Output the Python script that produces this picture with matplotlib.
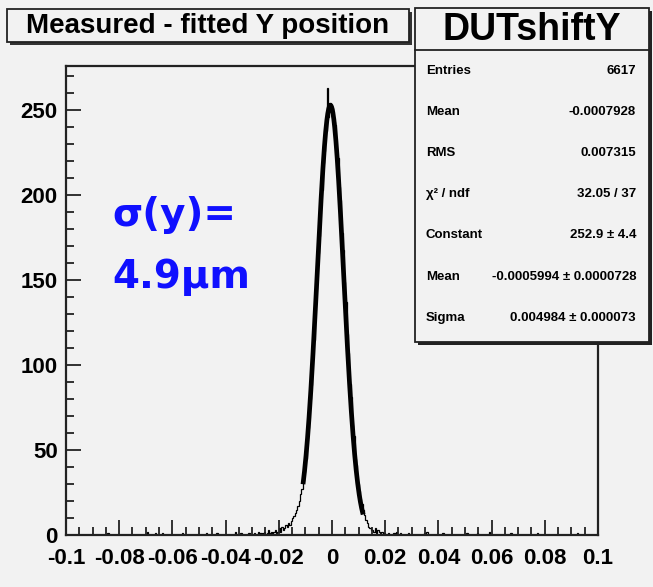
import numpy as np
import matplotlib
matplotlib.use("Agg")
import matplotlib.pyplot as plt
from matplotlib.patches import Rectangle
from matplotlib.ticker import MultipleLocator

# histogram: 400 bins from -0.1 to 0.1
x_min, x_max, n_bins = -0.1, 0.1, 400

# core region, bins of 0.0005 from -0.030 to 0.030
core_lo = -0.030
core_counts = [
    0, 1, 0, 0, 2, 0, 1, 0, 1, 2, 0, 1, 3, 1, 2, 0, 2, 3, 1, 2,
    4, 2, 5, 3, 4, 6, 5, 7, 6, 8,
    10, 11, 13, 15, 17, 20, 24, 27, 32, 37,
    45, 58, 63, 80, 88, 107, 115, 136, 145, 166,
    176, 195, 203, 219, 226, 238, 263, 246, 254, 250,
    251, 243, 241, 228, 222, 205, 197, 178, 168, 149,
    137, 118, 107, 89, 81, 65, 58, 45, 41, 30,
    26, 21, 18, 15, 12, 9, 7, 5, 4, 3,
    3, 2, 4, 1, 3, 2, 1, 2, 0, 1,
    0, 0, 1, 0, 0, 0, 1, 0, 2, 0, 0, 1, 0, 0, 0, 0, 0, 1, 0, 0,
]
# sparse entries in the far tails (bin centre, count)
tail_x = [-0.0845, -0.0695, -0.0665, -0.0640, -0.0565, -0.0475, -0.0435,
          -0.0365, -0.0345, -0.0315, 0.0345, 0.0355, 0.0415, 0.0505,
          0.0545, 0.0590, 0.0670, 0.0770, 0.0920]
tail_counts = [1, 2, 1, 1, 1, 1, 1, 2, 1, 1, 1, 2, 1, 1, 1, 2, 1, 1, 1]

# fit results (from stats box)
fit_const = 252.9
fit_mean = -0.0005994
fit_sigma = 0.004984
fit_range = (-0.0109, 0.0117)

stats_labels = ["Entries", "Mean", "RMS", "\u03c7\u00b2 / ndf", "Constant", "Mean", "Sigma"]
stats_values = ["6617", "-0.0007928", "0.007315", "32.05 / 37", "252.9 \u00b1 4.4",
                "-0.0005994 \u00b1 0.0000728", "0.004984 \u00b1 0.000073"]

x_ticks = [-0.1, -0.08, -0.06, -0.04, -0.02, 0, 0.02, 0.04, 0.06, 0.08, 0.1]
x_ticklabels = ["-0.1", "-0.08", "-0.06", "-0.04", "-0.02", "0", "0.02", "0.04", "0.06", "0.08", "0.1"]
y_ticks = [0, 50, 100, 150, 200, 250]

# build the bin contents
edges = np.linspace(x_min, x_max, n_bins + 1)
bw = (x_max - x_min) / n_bins
counts = np.zeros(n_bins)
i0 = int(round((core_lo - x_min) / bw))
counts[i0:i0 + len(core_counts)] = core_counts
for xc, c in zip(tail_x, tail_counts):
    counts[int((xc - x_min) / bw)] += c

bg = "#f2f2f2"
W, H = 653, 587
fig = plt.figure(figsize=(W / 100, H / 100), dpi=100, facecolor=bg)
plt.rcParams['font.family'] = ['Liberation Sans', 'DejaVu Sans']

ax = fig.add_axes([66 / W, 1 - 535 / H, (598 - 66) / W, (535 - 66) / H], facecolor=bg)
ax.stairs(counts, edges, color="black", lw=0.9)

xf = np.linspace(fit_range[0], fit_range[1], 200)
yf = fit_const * np.exp(-0.5 * ((xf - fit_mean) / fit_sigma) ** 2)
ax.plot(xf, yf, color="black", lw=3.4, solid_capstyle="butt")

ax.set_xlim(x_min, x_max)
ax.set_ylim(0, 276)
ax.set_xticks(x_ticks)
ax.set_xticklabels(x_ticklabels)
ax.set_yticks(y_ticks)
ax.xaxis.set_minor_locator(MultipleLocator(0.005))
ax.yaxis.set_minor_locator(MultipleLocator(10))
ax.tick_params(which="major", direction="in", length=11, width=1.3, color="#222222",
               labelsize=16, pad=6)
ax.tick_params(which="minor", direction="in", length=6, width=1.3, color="#222222")
ax.tick_params(axis="x", which="major", pad=9)
for lab in ax.get_xticklabels() + ax.get_yticklabels():
    lab.set_fontweight("bold")
for s in ax.spines.values():
    s.set_linewidth(1.6)
    s.set_color("#222222")

# overlay in pixel coordinates for the boxes
ov = fig.add_axes([0, 0, 1, 1], facecolor="none")
ov.set_xlim(0, W)
ov.set_ylim(H, 0)
ov.axis("off")

ov.text(112, 215, "\u03c3(y)=", color="#1010ff", fontsize=28, fontweight="bold",
        family="DejaVu Sans", va="center", ha="left")
ov.text(112, 277, "4.9\u00b5m", color="#1010ff", fontsize=28, fontweight="bold",
        family="DejaVu Sans", va="center", ha="left")

# title box with shadow
ov.add_patch(Rectangle((10, 12), 402, 33, facecolor="#333333", edgecolor="none"))
ov.add_patch(Rectangle((7, 9), 402, 33, facecolor=bg, edgecolor="#222222", lw=1.3))
ov.text(208, 26, "Measured - fitted Y position", fontsize=20, fontweight="bold",
        ha="center", va="center")

# stats box with shadow
ov.add_patch(Rectangle((418, 11), 234, 334, facecolor="#222222", edgecolor="none"))
ov.add_patch(Rectangle((415, 8), 234, 334, facecolor=bg, edgecolor="#222222", lw=1.3))
ov.plot([415, 649], [50, 50], color="#222222", lw=1.3)
ov.text(532, 30, "DUTshiftY", fontsize=27, fontweight="bold", ha="center", va="center")
for k, (lab, val) in enumerate(zip(stats_labels, stats_values)):
    yy = 71 + k * 41.1
    ov.text(426, yy, lab, fontsize=9.5, fontweight="bold", ha="left", va="center")
    ov.text(636, yy, val, fontsize=9.5, fontweight="bold", ha="right", va="center")

fig.savefig("out.png", dpi=100, facecolor=bg)
